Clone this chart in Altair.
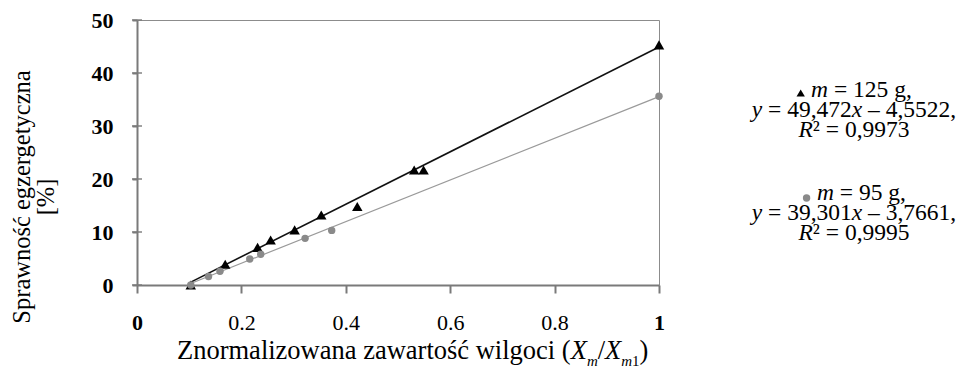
import altair as alt
import pandas as pd

# ---------------- data ----------------
x125 = [0.103, 0.169, 0.231, 0.256, 0.302, 0.353, 0.422, 0.531, 0.549, 1.0]
y125 = [0.0, 3.9, 7.1, 8.5, 10.4, 13.2, 14.8, 21.7, 21.7, 45.3]
x95 = [0.103, 0.137, 0.159, 0.216, 0.237, 0.322, 0.373, 1.0]
y95 = [0.0, 1.6, 2.6, 4.9, 5.8, 8.8, 10.3, 35.6]

masses = ["125", "95"]
slopes = [49.472, 39.301]
intercepts = [-4.5522, -3.7661]
r2_values = [0.9973, 0.9995]

x_ticks = [0, 0.2, 0.4, 0.6, 0.8, 1]
y_ticks = [0, 10, 20, 30, 40, 50]

x_title_main = "Znormalizowana zawartość wilgoci ("
y_title_lines = ["Sprawność egzergetyczna", "[%]"]

# ---------------- layout / style ----------------
FONT = "Liberation Serif"
W, H = 522, 265
AXIS_GRAY = "#7a7a7a"
DOT_GRAY = "#8a8a8a"

# Times / Liberation Serif advance widths (1/1000 em)
REG = {" ": 250, "=": 564, ",": 250, ".": 250, "g": 500, "–": 500, "²": 300,
       "(": 333, ")": 333, "/": 278, "Z": 611, "n": 500, "o": 500, "r": 333,
       "m": 778, "a": 444, "l": 278, "i": 278, "z": 444, "w": 722, "t": 278,
       "ś": 389, "ć": 444, "c": 444, "e": 444}
ITA = {"m": 722, "y": 444, "x": 444, "R": 611, "X": 611}


def tw(text, style, fs):
    table = ITA if style == "i" else REG
    return sum(table.get(ch, 500) for ch in text) * fs / 1000.0


def pl(v, nd):
    return f"{abs(v):.{nd}f}".replace(".", ",")


# ---------------- points and trend lines ----------------
pts125 = pd.DataFrame({"x": x125, "y": y125})
pts95 = pd.DataFrame({"x": x95, "y": y95})


def trend(xs, k, b):
    lo, hi = min(xs), max(xs)
    return pd.DataFrame({"x": [lo, hi], "y": [k * lo + b, k * hi + b]})


tr125 = trend(x125, slopes[0], intercepts[0])
tr95 = trend(x95, slopes[1], intercepts[1])

xs = alt.Scale(domain=[0, 1], nice=False, zero=False)
ys = alt.Scale(domain=[0, 50], nice=False)

x_axis = alt.Axis(
    values=x_ticks, title=None, grid=False,
    domainColor=AXIS_GRAY, domainWidth=2,
    tickColor=AXIS_GRAY, tickWidth=2, tickSize=8,
    labelFont=FONT, labelFontSize=22, labelColor="black", labelPadding=19,
    labelExpr="datum.value == 0 ? '0' : datum.value == 1 ? '1' : format(datum.value, '.1f')",
    labelFontWeight={"condition": {"test": "datum.value == 0 || datum.value == 1", "value": "bold"}, "value": "normal"},
    labelFlush=False, labelOverlap=False,
)
y_axis = alt.Axis(
    values=y_ticks, title=None, grid=False,
    domainColor=AXIS_GRAY, domainWidth=2,
    tickColor=AXIS_GRAY, tickWidth=2, tickSize=5,
    labelFont=FONT, labelFontSize=22, labelColor="black", labelPadding=19,
    labelFontWeight="bold", labelFlush=False, labelOverlap=False,
)

line125 = alt.Chart(tr125).mark_line(color="#111111", strokeWidth=1.6).encode(
    x=alt.X("x:Q", scale=xs, axis=x_axis), y=alt.Y("y:Q", scale=ys, axis=y_axis))
line95 = alt.Chart(tr95).mark_line(color="#9a9a9a", strokeWidth=1.2).encode(
    x="x:Q", y="y:Q")
tri = alt.Chart(pts125).mark_point(shape="triangle-up", filled=True, opacity=1,
                                   color="black", size=110).encode(x="x:Q", y="y:Q")
dots = alt.Chart(pts95).mark_point(shape="circle", filled=True, opacity=1,
                                   color=DOT_GRAY, size=55).encode(x="x:Q", y="y:Q")
ytk = alt.Chart(pd.DataFrame({"y": y_ticks, "x": [0] * len(y_ticks)})).mark_tick(
    orient="horizontal", size=10, thickness=2, color=AXIS_GRAY).encode(x="x:Q", y="y:Q")

data_layer = alt.layer(line95, line125, tri, dots, ytk)

# ---------------- annotation texts (pixel positions in plot frame) ----------------
segs = []
marks = []


def add_seg(cur, t, s, fs, py):
    # Vega trims spaces, so leading spaces become an x offset
    lead = len(t) - len(t.lstrip(" "))
    segs.append({"px": cur + tw(t[:lead], s, fs), "py": py, "text": t.strip(" "),
                 "style": s, "fs": fs})
    return cur + tw(t, s, fs)


LFS = 23.5
legend_cx = 717
MARK_W = 9
blocks = [(77, 0, "tri"), (180, 1, "dot")]
for base, i, mk in blocks:
    lines = [
        [("MARK", mk), (" ", "n"), ("m", "i"), (f" = {masses[i]} g,", "n")],
        [("y", "i"), (f" = {pl(slopes[i], 3)}", "n"), ("x", "i"),
         (f" – {pl(intercepts[i], 4)},", "n")],
        [("R", "i"), (f"² = {pl(r2_values[i], 4)}", "n")],
    ]
    for li, line in enumerate(lines):
        py = base + 20 * li
        total = sum(MARK_W if t == "MARK" else tw(t, s, LFS) for t, s in line)
        cur = legend_cx - total / 2
        for t, s in line:
            if t == "MARK":
                marks.append({"px": cur + MARK_W / 2, "py": py - (4 if s == "tri" else 2), "kind": s})
                cur += MARK_W
            elif t.strip(" ") == "":
                cur += tw(t, s, LFS)
            else:
                cur = add_seg(cur, t, s, LFS, py)

# x-axis title with italic and subscript parts
TFS, SFS = 26.5, 15
tx = 40.0
tb, sb = 339, 346
for t, s, fs, b in [(x_title_main, "n", TFS, tb), ("X", "i", TFS, tb),
                    ("m", "i", SFS, sb), ("/", "n", TFS, tb), ("X", "i", TFS, tb),
                    ("m", "i", SFS, sb), ("1", "n", SFS, sb), (")", "n", TFS, tb)]:
    tx = add_seg(tx, t, s, fs, b)

seg_df = pd.DataFrame(segs)
mark_df = pd.DataFrame(marks)
ytitle_df = pd.DataFrame({"px": [-107, -83], "py": [177, 177], "text": y_title_lines})

enc = dict(
    x=alt.X("px:Q", scale=None, axis=None),
    y=alt.Y("py:Q", scale=None, axis=None),
)
txt_n = alt.Chart(seg_df).transform_filter("datum.style == 'n'").mark_text(
    font=FONT, align="left", baseline="alphabetic", color="black").encode(
    text="text:N", size=alt.Size("fs:Q", scale=None, legend=None), **enc)
txt_i = alt.Chart(seg_df).transform_filter("datum.style == 'i'").mark_text(
    font=FONT, fontStyle="italic", align="left", baseline="alphabetic", color="black").encode(
    text="text:N", size=alt.Size("fs:Q", scale=None, legend=None), **enc)
mk_tri = alt.Chart(mark_df).transform_filter("datum.kind == 'tri'").mark_point(
    shape="triangle-up", filled=True, opacity=1, color="black", size=70).encode(**enc)
mk_dot = alt.Chart(mark_df).transform_filter("datum.kind == 'dot'").mark_point(
    shape="circle", filled=True, opacity=1, color=DOT_GRAY, size=55).encode(**enc)
ytitle = alt.Chart(ytitle_df).mark_text(
    font=FONT, fontSize=24.5, angle=270, align="center", baseline="alphabetic",
    color="black").encode(text="text:N", **enc)

text_layer = alt.layer(txt_n, txt_i, mk_tri, mk_dot, ytitle)

chart = alt.layer(data_layer, text_layer).resolve_scale(
    x="independent", y="independent", size="independent"
).properties(
    width=W, height=H,
    autosize=alt.AutoSizeParams(type="none"),
    padding={"left": 129, "top": 12, "right": 299, "bottom": 83},
).configure(
    font=FONT, background="white"
).configure_view(stroke="#8c8c8c", strokeWidth=1)

chart.save("out.html", embed_options={"renderer": "svg", "actions": False})
